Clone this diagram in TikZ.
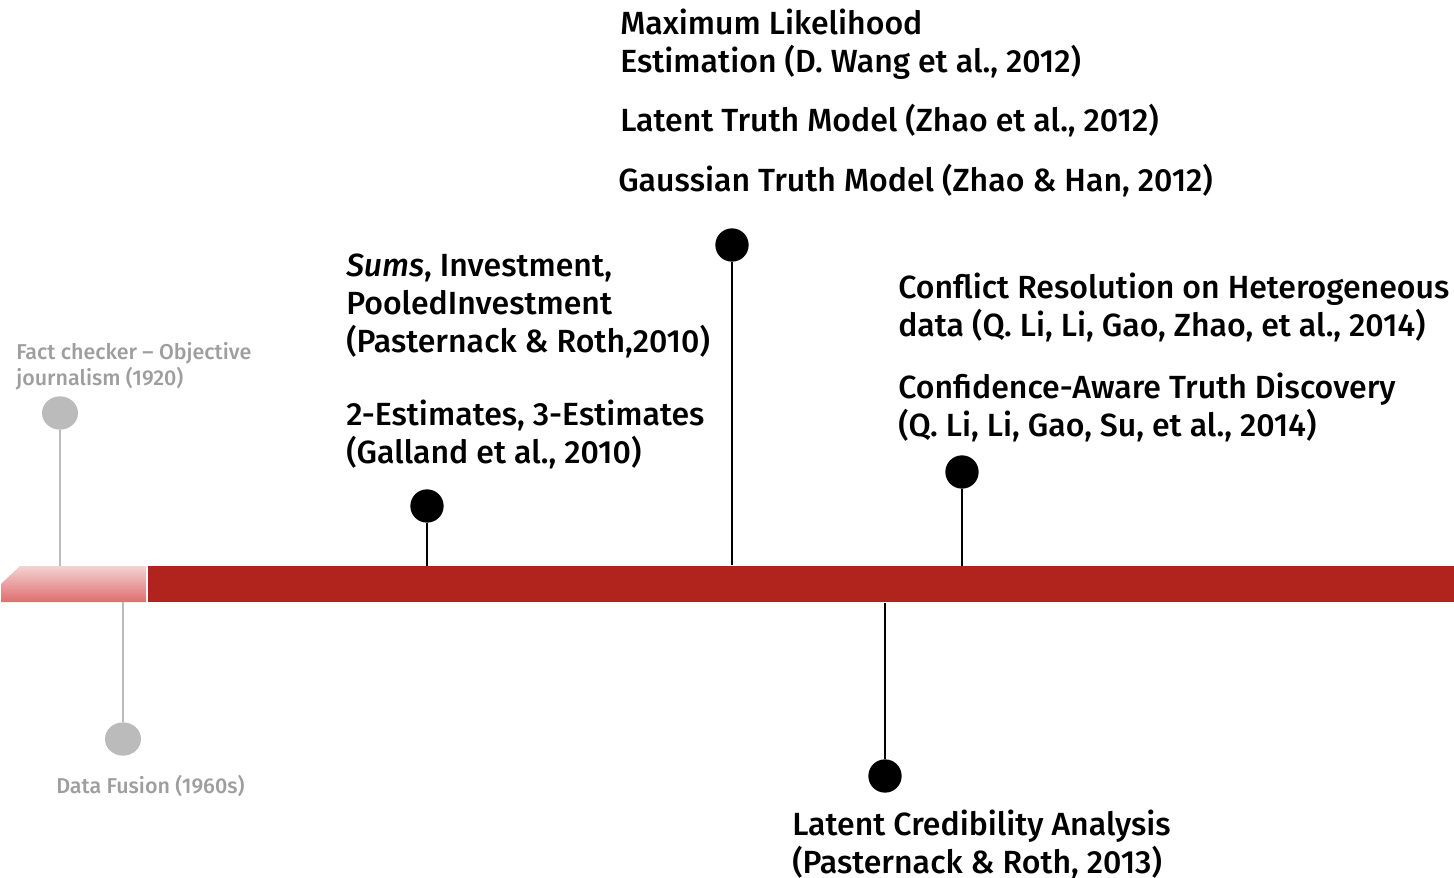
\documentclass[tikz,border=0pt]{standalone}
\usepackage{fontspec}
\setmainfont{Fira Sans Medium}[ItalicFont={Fira Sans Medium Italic}]
\usetikzlibrary{shapes.geometric}
\definecolor{barred}{HTML}{B0241D}
\definecolor{pinktop}{HTML}{F4D2D2}
\definecolor{pinkbot}{HTML}{DE6E6E}
\definecolor{stemgray}{HTML}{BBBBBB}
\definecolor{txtgray}{HTML}{9E9E9E}
\tikzset{
  lbl/.style={anchor=base west, align=left, inner sep=0pt, text=black,
    font=\fontsize{24.05pt}{28.5pt}\selectfont},
  glbl/.style={anchor=base west, align=left, inner sep=0pt, text=txtgray,
    font=\fontsize{16.1pt}{19.5pt}\selectfont},
  bdot/.style={circle, fill=black, inner sep=0pt, minimum size=25},
  gdot/.style={ellipse, fill=stemgray, inner sep=0pt, minimum width=27, minimum height=25},
  bstem/.style={draw=black, line width=1.5},
  gstem/.style={draw=stemgray, line width=1.5},
}
\begin{document}
\begin{tikzpicture}[x=0.75pt, y=-0.75pt]
\useasboundingbox (0,0) rectangle (1454,878);
% bar
\shade[top color=pinktop, bottom color=pinkbot] (20,566) -- (146,566) -- (146,602) -- (1,602) -- (1,584) -- cycle;
\fill[barred] (148,566) rectangle (1454,602);
% gray items
\node[gdot] (g1) at (60,413) {};
\coordinate (g1b) at (60,566);
\draw[gstem] (g1) -- (g1b);
\node[glbl] (g1t) at (16,385) {Fact checker – Objective\\journalism (1920)};
\node[gdot] (g2) at (123,739) {};
\coordinate (g2b) at (123,602);
\draw[gstem] (g2b) -- (g2);
\node[glbl] (g2t) at (56,793) {Data Fusion (1960s)};
% black items
\node[bdot] (d1) at (427,506) {};
\coordinate (d1b) at (427,566);
\draw[bstem] (d1) -- (d1b);
\node[bdot] (d2) at (732,245) {};
\coordinate (d2b) at (732,565);
\draw[bstem] (d2) -- (d2b);
\node[bdot] (d3) at (962,472) {};
\coordinate (d3b) at (962,566);
\draw[bstem] (d3) -- (d3b);
\node[bdot] (d4) at (885,776) {};
\coordinate (d4b) at (885,603);
\draw[bstem] (d4b) -- (d4);
% labels
\node[lbl] (t1) at (346,352) {\textit{Sums}, Investment,\\PooledInvestment\\(Pasternack \& Roth,2010)};
\node[lbl] (t2) at (346,463) {2-Estimates, 3-Estimates\\(Galland et al., 2010)};
\node[lbl] (t3) at (620,72) {Maximum Likelihood\\Estimation (D. Wang et al., 2012)};
\node[lbl] (t4) at (620,131) {Latent Truth Model (Zhao et al., 2012)};
\node[lbl] (t5) at (618,191) {Gaussian Truth Model (Zhao \& Han, 2012)};
\node[lbl] (t6) at (898,336) {Conflict Resolution on Heterogeneous\\data (Q. Li, Li, Gao, Zhao, et al., 2014)};
\node[lbl] (t7) at (898,436) {Confidence-Aware Truth Discovery\\(Q. Li, Li, Gao, Su, et al., 2014)};
\node[lbl] (t8) at (792,873) {Latent Credibility Analysis\\(Pasternack \& Roth, 2013)};
\end{tikzpicture}
\end{document}
